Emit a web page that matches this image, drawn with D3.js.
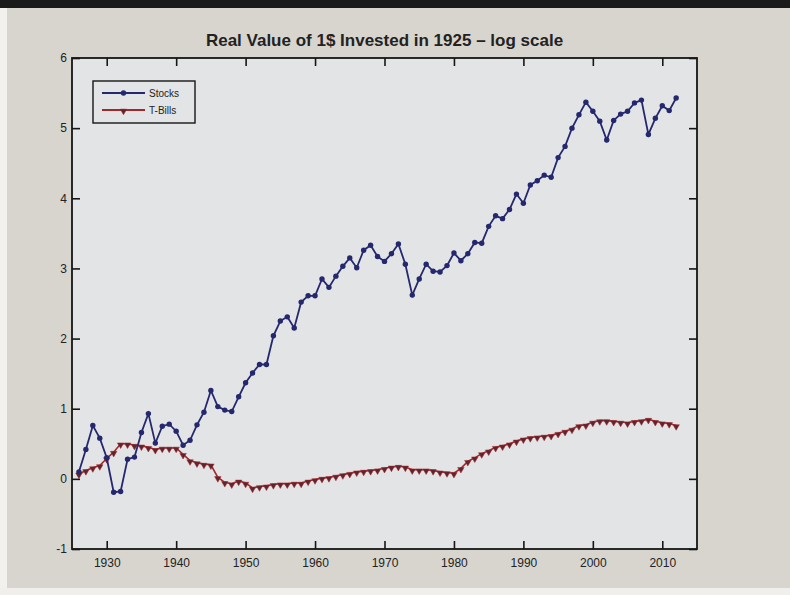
<!DOCTYPE html>
<html>
<head>
<meta charset="utf-8">
<script src="https://cdn.jsdelivr.net/npm/d3@7"></script>
<style>
  html, body { margin: 0; padding: 0; background: #d8d5cf; }
  svg { display: block; font-family: "Liberation Sans", Arial, Helvetica, sans-serif; }
</style>
</head>
<body>
<svg id="chart" width="790" height="595"></svg>
<script>
// Log of the real value of $1 invested at the end of 1925
const years = [1926,1927,1928,1929,1930,1931,1932,1933,1934,1935,
  1936,1937,1938,1939,1940,1941,1942,1943,1944,1945,
  1946,1947,1948,1949,1950,1951,1952,1953,1954,1955,
  1956,1957,1958,1959,1960,1961,1962,1963,1964,1965,
  1966,1967,1968,1969,1970,1971,1972,1973,1974,1975,
  1976,1977,1978,1979,1980,1981,1982,1983,1984,1985,
  1986,1987,1988,1989,1990,1991,1992,1993,1994,1995,
  1996,1997,1998,1999,2000,2001,2002,2003,2004,2005,
  2006,2007,2008,2009,2010,2011,2012];

const stocks = [0.10,0.42,0.76,0.58,0.30,-0.19,-0.18,0.28,0.31,0.66,
  0.93,0.51,0.75,0.78,0.68,0.48,0.55,0.77,0.95,1.26,
  1.03,0.98,0.96,1.17,1.37,1.51,1.63,1.63,2.04,2.25,
  2.31,2.15,2.52,2.61,2.61,2.85,2.73,2.89,3.03,3.15,
  3.01,3.26,3.33,3.17,3.10,3.21,3.35,3.06,2.62,2.85,
  3.06,2.96,2.95,3.04,3.22,3.11,3.21,3.37,3.36,3.60,
  3.75,3.71,3.84,4.06,3.93,4.19,4.25,4.33,4.30,4.58,
  4.74,5.00,5.19,5.37,5.24,5.10,4.83,5.11,5.20,5.24,
  5.36,5.40,4.91,5.14,5.32,5.25,5.43];

const tbills = [0.07,0.12,0.16,0.19,0.29,0.38,0.50,0.50,0.48,0.47,
  0.45,0.42,0.44,0.44,0.44,0.35,0.26,0.23,0.21,0.20,
  0.02,-0.05,-0.07,-0.03,-0.06,-0.13,-0.11,-0.10,-0.08,-0.07,
  -0.07,-0.06,-0.06,-0.03,-0.01,0.01,0.02,0.04,0.06,0.08,
  0.10,0.11,0.12,0.13,0.15,0.17,0.18,0.17,0.13,0.13,
  0.13,0.12,0.10,0.09,0.08,0.15,0.25,0.30,0.36,0.40,
  0.45,0.47,0.50,0.54,0.57,0.59,0.60,0.61,0.62,0.65,
  0.68,0.71,0.76,0.77,0.81,0.83,0.83,0.82,0.81,0.80,
  0.82,0.83,0.85,0.82,0.80,0.79,0.76];

const xTicks = [1930,1940,1950,1960,1970,1980,1990,2000,2010];
const yTicks = [-1,0,1,2,3,4,5,6];
const seriesNames = ["Stocks", "T-Bills"];
const titleText = "Real Value of 1$ Invested in 1925 \u2013 log scale";

const W = 790, H = 595;
const plot = { left: 72, right: 697, top: 58, bottom: 549 };
const stockColor = "#25286e";
const billColor = "#a3282a";
const ink = "#161616";

const svg = d3.select("#chart");

// screen surround
svg.append("rect").attr("width", W).attr("height", H).attr("fill", "#d8d5cf");
svg.append("rect").attr("x", 0).attr("y", 0).attr("width", W).attr("height", 8).attr("fill", "#1a1a1a");
svg.append("rect").attr("x", 0).attr("y", 8).attr("width", 7).attr("height", H).attr("fill", "#f2f1ee");
svg.append("rect").attr("x", 0).attr("y", 588).attr("width", W).attr("height", 7).attr("fill", "#f0efec");

const x = d3.scaleLinear().domain([1925, 2015]).range([plot.left, plot.right]);
const y = d3.scaleLinear().domain([-1, 6]).range([plot.bottom, plot.top]);

// axes area
svg.append("rect")
  .attr("x", plot.left).attr("y", plot.top)
  .attr("width", plot.right - plot.left).attr("height", plot.bottom - plot.top)
  .attr("fill", "#e2e4e6");

// title
svg.append("text")
  .attr("x", (plot.left + plot.right) / 2).attr("y", 46)
  .attr("text-anchor", "middle")
  .attr("font-size", 17)
  .attr("font-weight", "bold")
  .attr("fill", "#222")
  .text(titleText);

const tickLen = 8;
function styleAxis(g) {
  g.select(".domain").remove();
  g.selectAll(".tick line").attr("stroke", ink).attr("stroke-width", 1.6);
  g.selectAll(".tick text").attr("fill", "#222").attr("font-size", 12).attr("font-family", "inherit");
}

svg.append("g")
  .attr("transform", `translate(0,${plot.bottom})`)
  .call(d3.axisBottom(x).tickValues(xTicks).tickFormat(d3.format("d"))
    .tickSizeInner(-tickLen).tickSizeOuter(0).tickPadding(9))
  .call(styleAxis);

svg.append("g")
  .attr("transform", `translate(0,${plot.top})`)
  .call(d3.axisTop(x).tickValues(xTicks).tickFormat("")
    .tickSizeInner(-tickLen).tickSizeOuter(0))
  .call(styleAxis);

svg.append("g")
  .attr("transform", `translate(${plot.left},0)`)
  .call(d3.axisLeft(y).tickValues(yTicks).tickFormat(d => d < 0 ? "-" + Math.abs(d) : String(d))
    .tickSizeInner(-tickLen).tickSizeOuter(0).tickPadding(5))
  .call(styleAxis);

svg.append("g")
  .attr("transform", `translate(${plot.right},0)`)
  .call(d3.axisRight(y).tickValues(yTicks).tickFormat("")
    .tickSizeInner(-tickLen).tickSizeOuter(0))
  .call(styleAxis);

// frame
svg.append("rect")
  .attr("x", plot.left).attr("y", plot.top)
  .attr("width", plot.right - plot.left).attr("height", plot.bottom - plot.top)
  .attr("fill", "none").attr("stroke", ink).attr("stroke-width", 1.8);

const line = d3.line().x(d => x(d.year)).y(d => y(d.v));
const stockData = years.map((yr, i) => ({ year: yr, v: stocks[i] }));
const billData = years.map((yr, i) => ({ year: yr, v: tbills[i] }));

const triDown = d3.symbol().type(d3.symbolTriangle).size(18);

// T-Bills series
svg.append("path").datum(billData)
  .attr("d", line).attr("fill", "none")
  .attr("stroke", billColor).attr("stroke-width", 1.6);
svg.append("g").selectAll("path").data(billData).join("path")
  .attr("d", triDown)
  .attr("transform", d => `translate(${x(d.year)},${y(d.v) + 1}) rotate(180)`)
  .attr("fill", "#5e2430").attr("stroke", billColor).attr("stroke-width", 0.5);

// Stocks series
svg.append("path").datum(stockData)
  .attr("d", line).attr("fill", "none")
  .attr("stroke", stockColor).attr("stroke-width", 1.8);
svg.append("g").selectAll("circle").data(stockData).join("circle")
  .attr("cx", d => x(d.year)).attr("cy", d => y(d.v)).attr("r", 2.7)
  .attr("fill", stockColor);

// legend
const lg = svg.append("g").attr("transform", "translate(93,81)");
lg.append("rect").attr("width", 102).attr("height", 42)
  .attr("fill", "#e2e4e6").attr("stroke", ink).attr("stroke-width", 1.4);
const entries = [
  { name: seriesNames[0], color: stockColor, marker: "circle", dy: 12 },
  { name: seriesNames[1], color: billColor, marker: "tri", dy: 29 }
];
entries.forEach(e => {
  lg.append("line").attr("x1", 9).attr("x2", 52).attr("y1", e.dy).attr("y2", e.dy)
    .attr("stroke", e.color).attr("stroke-width", 2);
  if (e.marker === "circle") {
    lg.append("circle").attr("cx", 30.5).attr("cy", e.dy).attr("r", 2.7).attr("fill", e.color);
  } else {
    lg.append("path").attr("d", triDown)
      .attr("transform", `translate(30.5,${e.dy + 1}) rotate(180)`)
      .attr("fill", "#5e2430").attr("stroke", e.color).attr("stroke-width", 0.5);
  }
  lg.append("text").attr("x", 56).attr("y", e.dy + 3.5)
    .attr("font-size", 10).attr("fill", "#222").text(e.name);
});
</script>
</body>
</html>
